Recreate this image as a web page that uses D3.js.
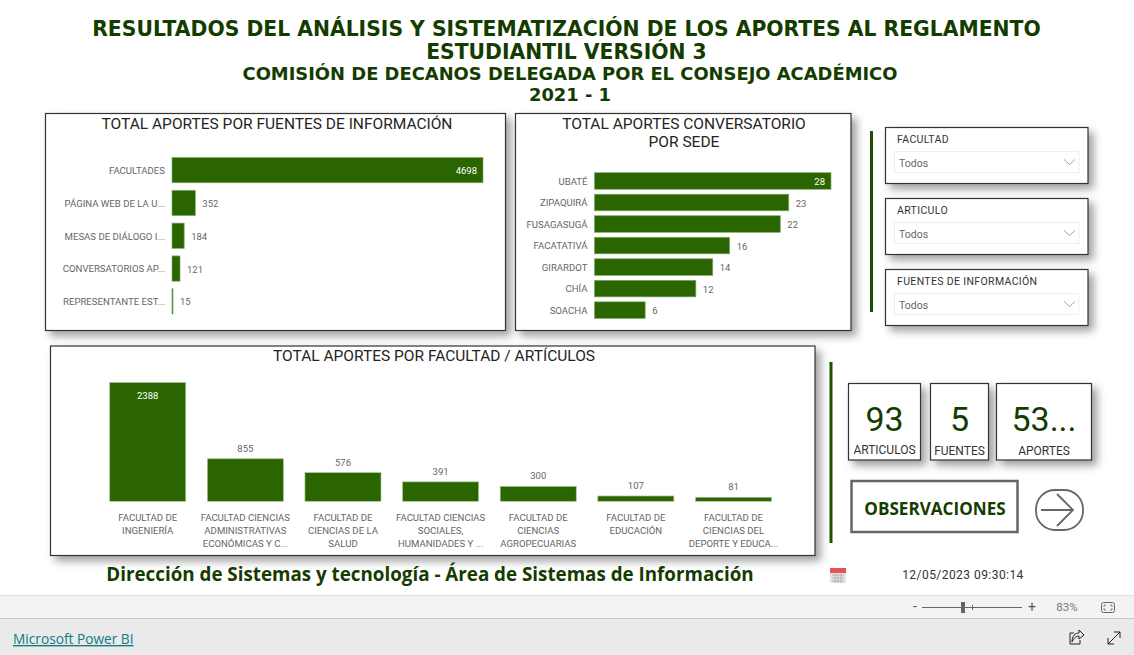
<!DOCTYPE html>
<html lang="es"><head><meta charset="utf-8">
<script src="https://cdn.jsdelivr.net/npm/d3@7"></script>
<style>
html,body{margin:0;padding:0;background:#fff;overflow:hidden}
svg{display:block}
text{font-family:Roboto,sans-serif}
.panel{fill:#fff;stroke:#333;stroke-width:1.2;filter:drop-shadow(5px 5px 4px rgba(0,0,0,.38))}
.axis text{fill:#666;font-size:9.6px}
.val{font-size:9.5px;fill:#666}
.ptitle{font-size:15.5px;fill:#252423;text-anchor:middle}
</style></head><body>
<svg id="c" width="1134" height="655"></svg>
<script>
const headingLines = ["RESULTADOS DEL ANÁLISIS Y SISTEMATIZACIÓN DE LOS APORTES AL REGLAMENTO","ESTUDIANTIL VERSIÓN 3"];
const subheadingLines = ["COMISIÓN DE DECANOS DELEGADA POR EL CONSEJO ACADÉMICO","2021 - 1"];
const sourceNames = ["FACULTADES","PÁGINA WEB DE LA U...","MESAS DE DIÁLOGO I...","CONVERSATORIOS AP...","REPRESENTANTE EST..."];
const sourceValues = [4698,352,184,121,15];
const siteNames = ["UBATÉ","ZIPAQUIRÁ","FUSAGASUGÁ","FACATATIVÁ","GIRARDOT","CHÍA","SOACHA"];
const siteValues = [28,23,22,16,14,12,6];
const facultyNames = [["FACULTAD DE","INGENIERÍA"],["FACULTAD CIENCIAS","ADMINISTRATIVAS","ECONÓMICAS Y C..."],["FACULTAD DE","CIENCIAS DE LA","SALUD"],["FACULTAD CIENCIAS","SOCIALES,","HUMANIDADES Y ..."],["FACULTAD DE","CIENCIAS","AGROPECUARIAS"],["FACULTAD DE","EDUCACIÓN"],["FACULTAD DE","CIENCIAS DEL","DEPORTE Y EDUCA..."]];
const facultyValues = [2388,855,576,391,300,107,81];
const slicerNames = ["FACULTAD","ARTICULO","FUENTES DE INFORMACIÓN"];
const kpiValues = ["93","5","53..."];
const kpiNames = ["ARTICULOS","FUENTES","APORTES"];

const GREEN="#2a6500", EDGE="#7fab6b", DARK="#143c00";
const svg=d3.select("#c");

// header
const hdr=svg.append("g").attr("text-anchor","middle").attr("fill",DARK)
  .style("font-weight","700");
hdr.selectAll(".h").data(headingLines).join("text").attr("class","h").attr("x",566.5).attr("y",(d,i)=>35.5+i*23.5)
  .style("font-family","'DejaVu Sans'").style("font-size","20.33px").text(d=>d);
hdr.selectAll(".s").data(subheadingLines).join("text").attr("class","s").attr("x",570).attr("y",(d,i)=>79.5+i*21.5)
  .style("font-family","'DejaVu Sans'").style("font-size","17.9px").text(d=>d);

function panel(x,y,w,h){svg.append("rect").attr("class","panel").attr("x",x).attr("y",y).attr("width",w).attr("height",h);}
panel(45.5,113.5,460,217);
panel(515.5,113.5,335.5,217);
panel(50.5,346,764.5,209.5);

svg.append("text").attr("class","ptitle").attr("x",277).attr("y",129).text("TOTAL APORTES POR FUENTES DE INFORMACIÓN");
svg.append("text").attr("class","ptitle").attr("x",684).attr("y",129).text("TOTAL APORTES CONVERSATORIO");
svg.append("text").attr("class","ptitle").attr("x",684).attr("y",147).text("POR SEDE");
svg.append("text").attr("class","ptitle").attr("x",434).attr("y",361).text("TOTAL APORTES POR FACULTAD / ARTÍCULOS");

function hbars(names,values,maxV,x0,x1,y0,y1,pad){
  const x=d3.scaleLinear().domain([0,maxV]).range([x0,x1]);
  const y=d3.scaleBand().domain(names).range([y0,y1]).paddingInner(pad).paddingOuter(0);
  const ax=svg.append("g").attr("class","axis").attr("transform",`translate(${x0},0.7)`).call(d3.axisLeft(y).tickSize(0).tickPadding(7));
  ax.select(".domain").remove();
  svg.append("g").selectAll("rect").data(values).join("rect")
    .attr("x",x(0)).attr("y",(d,i)=>y(names[i])).attr("width",d=>x(d)-x(0)).attr("height",y.bandwidth())
    .attr("fill",GREEN).attr("stroke",EDGE).attr("stroke-width",.7);
  svg.append("g").selectAll("text").data(values).join("text").attr("class","val")
    .attr("x",(d,i)=>i==0?x(d)-6:x(d)+7)
    .attr("y",(d,i)=>y(names[i])+y.bandwidth()/2+4)
    .attr("text-anchor",(d,i)=>i==0?"end":"start")
    .style("fill",(d,i)=>i==0?"#fff":"#666")
    .text(d=>d);
}
hbars(sourceNames,sourceValues,4698,172,483,157.5,314,.23);
hbars(siteNames,siteValues,28,594.5,831,172.7,318.4,.23);

// column chart
{
  const keys=facultyNames.map(d=>d.join(" "));
  const x=d3.scaleBand().domain(keys).range([109.7,771.5]).paddingInner(.221).paddingOuter(0);
  const y=d3.scaleLinear().domain([0,2388]).range([501.3,382.5]);
  svg.append("g").selectAll("rect").data(facultyValues).join("rect")
    .attr("x",(d,i)=>x(keys[i])).attr("y",d=>y(d)).attr("width",x.bandwidth()).attr("height",d=>y(0)-y(d))
    .attr("fill",GREEN).attr("stroke","#a9c69c").attr("stroke-width",.7);
  svg.append("g").selectAll("text").data(facultyValues).join("text").attr("class","val")
    .attr("x",(d,i)=>x(keys[i])+x.bandwidth()/2)
    .attr("y",(d,i)=>i==0?y(d)+16:y(d)-7)
    .attr("text-anchor","middle").style("fill",(d,i)=>i==0?"#fff":"#666").text(d=>d);
  const ax=svg.append("g").attr("class","axis").attr("transform","translate(0,501.3)").call(d3.axisBottom(x).tickSize(0));
  ax.select(".domain").remove();
  ax.selectAll("text").each(function(d,i){
    const t=d3.select(this).text(null).attr("y",0).attr("dy",null);
    facultyNames[i].forEach((l,j)=>t.append("tspan").attr("x",0).attr("y",19.7+j*13).text(l));
  });
}

// separators
svg.append("rect").attr("x",870).attr("y",131).attr("width",3).attr("height",181).attr("fill","#1f5200");
svg.append("rect").attr("x",829.5).attr("y",362).attr("width",3).attr("height",181).attr("fill","#1f5200");

// slicers
const slicerY=d3.scalePoint().domain(slicerNames).range([127.5,269.5]);
slicerNames.forEach(n=>{
  const y0=slicerY(n);
  svg.append("rect").attr("class","panel").attr("x",885.5).attr("y",y0).attr("width",202.5).attr("height",56);
  svg.append("text").attr("x",897).attr("y",y0+15.5).attr("fill","#333").style("font-size","10.5px").style("letter-spacing",".35px").text(n);
  svg.append("rect").attr("x",894.5).attr("y",y0+24).attr("width",184.5).attr("height",21).attr("fill","#fff").attr("stroke","#eee");
  svg.append("text").attr("x",899).attr("y",y0+39.5).attr("fill","#666").style("font-size","10.5px").text("Todos");
  svg.append("path").attr("d",`M1064 ${y0+32}l5.5 5l5.5 -5`).attr("fill","none").attr("stroke","#888").attr("stroke-width",.8);
});

// KPI cards
const cardX=[848.5,930.5,996.5], cardW=[72,58,95], kpiLabelY=[454,455,455];
kpiValues.forEach((v,i)=>{
  svg.append("rect").attr("class","panel").attr("x",cardX[i]).attr("y",383.5).attr("width",cardW[i]).attr("height",76.5);
  svg.append("text").attr("x",cardX[i]+cardW[i]/2).attr("y",431).attr("text-anchor","middle").attr("fill",DARK).style("font-size","34px").text(v);
  svg.append("text").attr("x",cardX[i]+cardW[i]/2).attr("y",kpiLabelY[i]).attr("text-anchor","middle").attr("fill","#333").style("font-size","12px").text(kpiNames[i]);
});

// observaciones button
svg.append("rect").attr("x",851.5).attr("y",481).attr("width",166).attr("height",51).attr("fill","#fff").attr("stroke","#666").attr("stroke-width",2.5);
svg.append("text").attr("x",935).attr("y",514.5).attr("text-anchor","middle").attr("fill",DARK)
  .style("font-family","'Open Sans'").style("font-weight","700").style("font-size","17.1px").text("OBSERVACIONES");
svg.append("rect").attr("x",1036).attr("y",490).attr("width",47).attr("height",40).attr("rx",19).attr("fill","none").attr("stroke","#666").attr("stroke-width",1.8);
svg.append("path").attr("d","M1041 510H1072M1057 494L1073 510L1057 526").attr("fill","none").attr("stroke","#666").attr("stroke-width",1.8);

// footer text
svg.append("text").attr("x",430).attr("y",581).attr("text-anchor","middle").attr("fill",DARK)
  .style("font-family","'Open Sans'").style("font-weight","700").style("font-size","18.8px").text("Dirección de Sistemas y tecnología - Área de Sistemas de Información");

// calendar + date
const cal=svg.append("g");
cal.append("rect").attr("x",830).attr("y",568).attr("width",16).attr("height",15).attr("fill","#e4e4e4");
cal.append("rect").attr("x",830).attr("y",568).attr("width",16).attr("height",5).attr("fill","#e8534f");
cal.append("path").attr("d","M832 575H844M832 578H844M832 581H844M835 574V583M838 574V583M841 574V583").attr("stroke","#aaa").attr("stroke-width",.8);
svg.append("text").attr("x",963).attr("y",579).attr("text-anchor","middle").attr("fill","#333").style("font-size","12px").style("letter-spacing",".45px").text("12/05/2023 09:30:14");

// power bi chrome
svg.append("rect").attr("x",0).attr("y",595).attr("width",1134).attr("height",23).attr("fill","#f3f3f3");
svg.append("rect").attr("x",0).attr("y",595).attr("width",1134).attr("height",1).attr("fill","#e0e0e0");
svg.append("rect").attr("x",0).attr("y",618).attr("width",1134).attr("height",37).attr("fill","#eaeaea");
svg.append("rect").attr("x",0).attr("y",618).attr("width",1134).attr("height",1).attr("fill","#c8c8c8");
svg.append("text").attr("x",13).attr("y",644).attr("fill","#117a82").style("font-family","'Open Sans'").style("font-size","13.7px").style("text-decoration","underline").text("Microsoft Power BI");
svg.append("text").attr("x",915).attr("y",611).attr("text-anchor","middle").attr("fill","#555").style("font-size","14px").text("-");
svg.append("rect").attr("x",922).attr("y",607).attr("width",100).attr("height",1).attr("fill","#666");
svg.append("rect").attr("x",961).attr("y",602).attr("width",4).attr("height",11).attr("fill","#666");
svg.append("rect").attr("x",972).attr("y",605).attr("width",1).attr("height",5).attr("fill","#666");
svg.append("text").attr("x",1032).attr("y",612).attr("text-anchor","middle").attr("fill","#555").style("font-size","14px").text("+");
svg.append("text").attr("x",1067).attr("y",611).attr("text-anchor","middle").attr("fill","#777").style("font-size","11.5px").text("83%");
svg.append("rect").attr("x",1101.5).attr("y",602.5).attr("width",13).attr("height",10).attr("rx",2).attr("fill","none").attr("stroke","#666");
svg.append("path").attr("d","M1104 607V605H1106M1112 607V605H1110M1104 608V610H1106M1112 608V610H1110").attr("fill","none").attr("stroke","#666").attr("stroke-width",.8);
svg.append("path").attr("d","M1074 633H1070V644H1080V640M1072 642C1072 636 1075 633 1079 633V630L1084 635L1079 639V636C1076 636 1074 638 1072 642Z").attr("fill","none").attr("stroke","#222").attr("stroke-width",1);
svg.append("path").attr("d","M1108 644L1120 632M1114 632H1120V638M1108 638V644H1114").attr("fill","none").attr("stroke","#222").attr("stroke-width",1);
</script></body></html>
